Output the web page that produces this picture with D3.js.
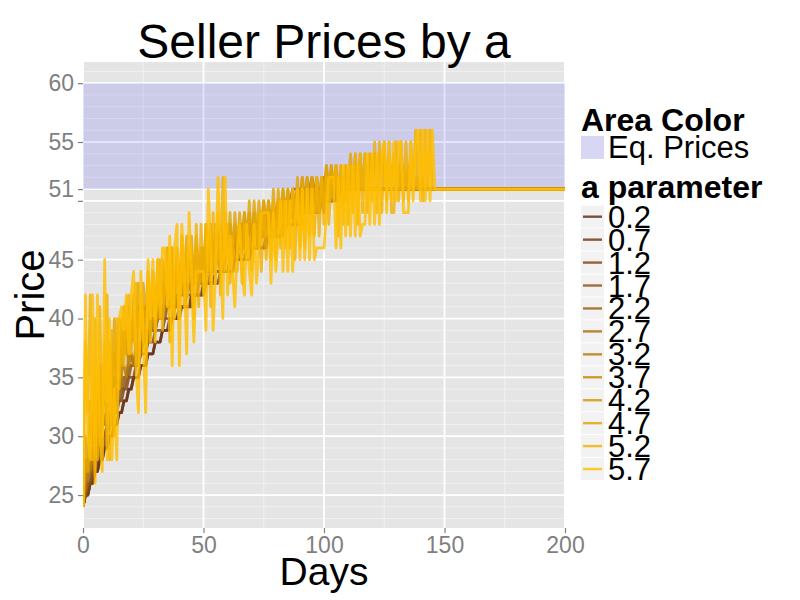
<!DOCTYPE html>
<html><head><meta charset="utf-8">
<script src="https://cdn.jsdelivr.net/npm/d3@7"></script>
<style>body{margin:0;background:#fff}text{font-family:"Liberation Sans",Arial,sans-serif}</style>
</head><body><svg id="c" width="800" height="600"></svg>
<script>
// ---------- data ----------
const aLevels = ["0.2","0.7","1.2","1.7","2.2","2.7","3.2","3.7","4.2","4.7","5.2","5.7"];
const xTicks = [0,50,100,150,200];
const yTicks = [25,30,35,40,45,50,51,55,60];
const yTickLabels = ["25","30","35","40","45","","51","55","60"];
const eqBand = [51,60];
const dayRange = [0,200];
// daily prices (index = day); each path stays at its last value until the last day
const s02 = [24,25,25,26,26,27,27,28,28,29,29,30,30,31,31,32,32,33,33,34,34,35,35,35,36,36,36,37,37,37,38,38,38,39,39,39,40,40,40,40,41,41,41,41,41,42,42,42,42,42,43,43,43,43,43,44,44,44,44,44,44,45,45,45,45,45,45,45,46,46,46,46,46,46,46,46,47,47,47,47,47,47,47,48,48,48,48,48,48,48,48,49,49,49,49,49,49,49,49,50,50,50,50,50,50,50,51];
const s07 = [24,25,25,26,26,27,27,28,28,29,29,30,30,31,31,32,32,33,33,34,34,35,35,35,36,36,36,37,37,37,38,38,38,39,39,39,39,40,40,40,40,41,41,41,41,41,42,42,42,42,42,43,43,43,43,43,43,44,44,44,44,44,44,45,45,45,45,45,45,45,46,46,46,46,46,46,46,47,47,47,47,47,47,47,48,48,48,48,48,48,48,49,49,49,49,49,49,49,50,50,50,50,50,50,50,51];
const s12 = [24,25,25,26,27,27,28,28,29,29,30,31,31,32,32,33,33,34,34,35,35,35,36,36,37,37,37,38,38,38,39,39,39,39,40,40,40,40,41,41,41,41,41,42,42,42,42,42,43,43,43,43,43,44,44,44,44,44,44,45,45,45,45,45,45,45,46,46,46,46,46,46,46,47,47,47,47,47,47,47,48,48,48,48,48,48,48,49,49,49,49,49,49,49,50,50,50,50,50,50,51];
const s17 = [24,25,26,26,27,28,28,29,29,30,31,31,32,32,33,33,34,34,35,35,36,36,36,37,37,38,38,38,39,39,39,40,40,40,40,41,41,41,41,42,42,42,42,42,43,43,43,43,43,44,44,44,44,44,45,45,45,45,45,45,46,46,46,46,46,46,46,47,47,47,47,47,47,47,48,48,48,48,48,48,48,49,49,49,49,49,49,49,50,50,50,50,50,50,51];
const s22 = [24,25,26,27,27,28,29,29,30,30,31,32,32,33,33,34,34,35,35,36,36,36,37,37,38,38,38,39,39,39,40,40,40,41,41,41,41,42,42,42,42,43,43,43,43,43,44,44,44,44,44,45,45,45,45,45,45,46,46,46,46,46,46,47,47,47,47,47,47,48,48,48,48,48,48,49,49,49,49,49,49,50,50,50,50,50,50,51];
const s27 = [24,26,27,27,28,29,29,30,31,31,32,33,32,33,34,34,35,35,35,36,37,36,37,38,37,38,39,38,39,40,39,40,41,40,41,41,41,42,42,41,42,43,42,43,43,43,44,44,43,44,44,44,45,45,44,45,45,45,46,46,45,46,46,46,47,47,46,47,47,47,47,48,47,48,48,48,48,49,48,49,49,49,49,50,49,50,50,50,50,51,50,51,51,51,51,52,51,51];
const s32 = [24,26,28,27,29,30,29,31,32,31,33,34,33,35,35,34,36,36,35,37,37,36,38,38,37,39,39,38,40,40,39,41,41,40,42,42,41,42,42,41,43,43,42,43,43,42,44,44,43,44,44,43,45,45,44,45,45,44,46,46,45,46,46,45,47,47,46,47,47,46,47,47,46,48,48,47,48,48,47,49,49,48,49,49,48,50,50,49,50,50,49,50,50,49,51,51,50,51,51,50,52,52,51,52,51,51];
const s37 = [24,27,27,29,28,31,31,30,33,33,32,35,35,33,36,36,35,38,38,36,39,39,37,40,40,38,41,41,39,42,42,40,43,43,41,43,43,41,44,44,42,44,44,42,45,45,43,45,45,43,46,46,44,46,46,44,47,47,45,47,47,45,47,47,45,48,48,46,48,48,46,48,48,46,49,49,47,49,49,47,49,49,47,50,50,48,50,50,48,50,50,48,51,51,49,51,51,49,51,51,49,52,52,50,52,52,50,52,52,50,52,52,51,52,51,51];
const s42 = [24,28,27,31,29,33,31,34,32,36,33,36,34,37,35,38,36,39,37,39,38,40,38,41,39,41,40,42,40,42,41,43,41,43,42,44,42,44,42,44,43,45,43,45,43,45,44,46,44,46,44,46,45,47,45,47,45,47,46,48,46,48,46,48,46,48,47,49,47,49,47,49,47,49,48,50,48,50,48,50,48,50,49,51,49,51,49,51,49,51,50,52,50,52,50,52,50,52,50,52,51,53,51,53,51,53,51,52,51,52,51,52,51,52,51,52,51,51];
const s47 = [24,30,27,33,29,35,30,36,32,38,33,38,34,40,35,40,36,41,37,41,38,42,38,43,39,43,40,44,40,44,40,45,41,45,42,46,42,46,42,46,42,47,43,47,43,47,43,47,44,44,44,48,44,48,44,48,45,48,45,49,45,49,45,49,46,49,46,49,46,50,46,50,47,50,47,50,47,50,47,51,47,51,48,51,48,51,48,51,48,52,48,52,49,52,49,52,49,52,49,52,50,53,50,53,50,53,50,53,50,53,51,54,51,54,51,54,51,54,51,54,52,54,52,54,52,54,51,54,51,54,51,53,51,53,51,53,51,53,51,52,51,52,51,51];
const s52 = [24,38,32,42,28,40,28,41,30,36,42,28,39,30,40,34,40,36,41,42,37,40,43,36,42,40,37,43,38,44,40,42,45,39,44,46,38,46,40,46,40,47,41,46,46,46,40,48,41,48,42,48,47,41,49,43,49,42,52,44,48,43,47,44,44,48,43,48,45,47,44,48,46,49,44,49,45,49,45,50,45,50,46,50,46,50,46,51,45,51,46,51,46,51,47,51,47,52,47,52,48,52,48,52,52,53,47,53,48,53,48,53,49,54,48,54,49,54,49,54,50,55,49,55,49,55,50,55,49,49,55,50,55,50,55,50,55,51,56,51,56,50,56,51,56,51,51];
const s57 = [24,42,30,28,42,26,42,30,27,45,28,40,28,34,28,40,41,39,42,37,42,44,36,32,44,38,32,45,40,45,38,45,40,46,46,41,47,36,46,48,36,48,44,37,49,44,38,44,44,44,44,39,51,46,39,44,52,47,40,52,42,47,44,41,46,48,44,42,48,44,42,48,43,46,49,49,49,49,43,49,44,47,50,44,50,44,50,44,48,51,45,51,45,51,45,51,45,46,46,46,46,49,52,52,52,46,52,46,53,47,53,47,53,47,53,47,48,48,54,48,54,48,54,48,54,55,49,55,50,55,50,55,55,49,49,49,55,50,55,56,50,56,50,56,50,56,51,51];
const seriesValues = [s02,s07,s12,s17,s22,s27,s32,s37,s42,s47,s52,s57];

// ---------- layout ----------
const svg = d3.select("#c");
const P = {l:83, r:565, t:62, b:528};
const x = d3.scaleLinear().domain(dayRange).range([P.l,P.r]);
const y = d3.scaleLinear().domain([22.2,61.8]).range([P.b,P.t]);
const dark = d3.rgb(95,40,25), light = d3.rgb(255,190,0);
const color = d3.scaleOrdinal().domain(aLevels)
  .range(aLevels.map((_,i)=>d3.interpolateRgb(dark,light)(i/(aLevels.length-1))));
const lineOpacity = 0.82;

// panel
svg.append("rect").attr("x",P.l).attr("y",P.t).attr("width",P.r-P.l).attr("height",P.b-P.t).attr("fill","#E5E5E5");
const g = svg.append("g");
d3.range(23,62).filter(v=>!yTicks.includes(v)).forEach(v=>{
  g.append("line").attr("x1",P.l).attr("x2",P.r).attr("y1",y(v)).attr("y2",y(v)).attr("stroke","#F2F2F2").attr("stroke-width",0.9);
});
[25,75,125,175].forEach(v=>{
  g.append("line").attr("y1",P.t).attr("y2",P.b).attr("x1",x(v)).attr("x2",x(v)).attr("stroke","#F2F2F2").attr("stroke-width",0.9);
});
yTicks.forEach(v=>{
  g.append("line").attr("x1",P.l).attr("x2",P.r).attr("y1",y(v)).attr("y2",y(v)).attr("stroke","#FFFFFF").attr("stroke-width",1.8);
});
xTicks.forEach(v=>{
  g.append("line").attr("y1",P.t).attr("y2",P.b).attr("x1",x(v)).attr("x2",x(v)).attr("stroke","#FFFFFF").attr("stroke-width",1.8);
});
// equilibrium band
svg.append("rect").attr("x",x(dayRange[0])).attr("width",x(dayRange[1])-x(dayRange[0]))
  .attr("y",y(eqBand[1])).attr("height",y(eqBand[0])-y(eqBand[1]))
  .attr("fill","rgb(60,60,255)").attr("fill-opacity",0.14);

// lines
const line = d3.line().x(d=>x(d[0])).y(d=>y(d[1]));
svg.append("clipPath").attr("id","pc").append("rect").attr("x",P.l).attr("y",P.t).attr("width",P.r-P.l).attr("height",P.b-P.t);
const lg = svg.append("g").attr("clip-path","url(#pc)");
seriesValues.forEach((vals,i)=>{
  const pts = vals.map((v,d)=>[d,v]);
  pts.push([dayRange[1], vals[vals.length-1]]);
  lg.append("path").datum(pts).attr("d",line).attr("fill","none")
    .attr("stroke",color(aLevels[i])).attr("stroke-opacity",lineOpacity)
    .attr("stroke-width",2.8).attr("stroke-linejoin","round");
});

// axes
const ax = svg.append("g").attr("transform",`translate(0,${P.b})`)
  .call(d3.axisBottom(x).tickValues(xTicks).tickSize(5).tickPadding(4).tickFormat(d3.format("d")));
const ay = svg.append("g").attr("transform",`translate(${P.l},0)`)
  .call(d3.axisLeft(y).tickValues(yTicks).tickSize(5).tickPadding(4).tickFormat((d,i)=>yTickLabels[i]));
[ax,ay].forEach(a=>{
  a.select(".domain").remove();
  a.selectAll(".tick line").attr("stroke","#7F7F7F").attr("stroke-width",1.2);
  a.selectAll(".tick text").attr("fill","#7F7F7F").style("font-size","23px").style("font-family","'Liberation Sans',Arial,sans-serif");
});

// titles
svg.append("text").attr("x",(P.l+P.r)/2).attr("y",58).attr("text-anchor","middle")
  .style("font-size","48px").text("Seller Prices by a");
svg.append("text").attr("x",(P.l+P.r)/2).attr("y",585).attr("text-anchor","middle")
  .style("font-size","39px").text("Days");
svg.append("text").attr("transform",`translate(44,${(P.t+P.b)/2}) rotate(-90)`).attr("text-anchor","middle")
  .style("font-size","40px").text("Price");

// legend
const L = svg.append("g");
L.append("text").attr("x",581).attr("y",131).style("font-size","32px").style("font-weight","bold").text("Area Color");
L.append("rect").attr("x",581).attr("y",136).attr("width",23).attr("height",23).attr("fill","#F2F2F2");
L.append("rect").attr("x",581).attr("y",136).attr("width",23).attr("height",23).attr("fill","rgb(60,60,255)").attr("fill-opacity",0.14);
L.append("text").attr("x",608).attr("y",158).style("font-size","31px").text("Eq. Prices");
L.append("text").attr("x",581).attr("y",198).style("font-size","32px").style("font-weight","bold").text("a parameter");
aLevels.forEach((a,i)=>{
  const cy = 216.7 + i*22.94;
  L.append("rect").attr("x",581).attr("y",cy-11).attr("width",23).attr("height",22).attr("fill","#F2F2F2");
  L.append("line").attr("x1",583).attr("x2",602).attr("y1",cy).attr("y2",cy)
    .attr("stroke",color(a)).attr("stroke-opacity",lineOpacity).attr("stroke-width",2.4);
  L.append("text").attr("x",608).attr("y",cy+11).style("font-size","31px").text(a);
});
</script></body></html>
